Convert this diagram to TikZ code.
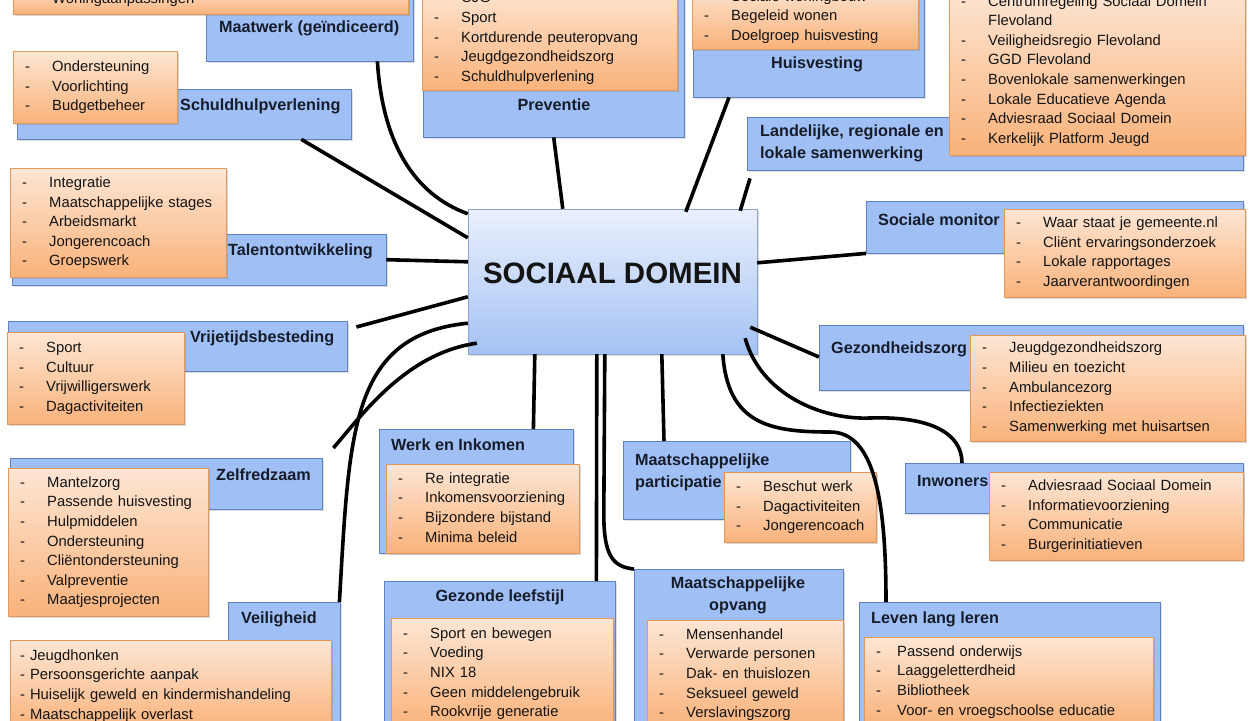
\documentclass[tikz,border=0pt]{standalone}
\usepackage{fontspec}
\setmainfont{Liberation Sans}
\usepackage{xcolor}
\usepackage{tikz}
\usetikzlibrary{shadows}
\definecolor{themefill}{RGB}{160,192,245}
\definecolor{themeline}{RGB}{95,130,190}
\definecolor{listtop}{RGB}{253,230,212}
\definecolor{listbottom}{RGB}{249,178,122}
\definecolor{listline}{RGB}{228,152,92}
\definecolor{hubtop}{RGB}{234,240,253}
\definecolor{hubbottom}{RGB}{164,194,243}
\definecolor{hubline}{RGB}{140,165,205}
\definecolor{ink}{RGB}{20,20,20}
\definecolor{titleink}{RGB}{22,28,42}

\newcommand{\dashitem}[2][27pt]{\strut\makebox[#1][l]{-}#2}

\begin{document}
\begin{tikzpicture}[x=1pt, y=-1pt,
    themebox/.style={draw=themeline, fill=themefill, anchor=north west, inner sep=0pt,
        drop shadow={shadow xshift=2pt, shadow yshift=-2pt, opacity=0.25}},
    listbox/.style={draw=listline, top color=listtop, bottom color=listbottom,
        anchor=north west, inner xsep=12pt, inner ysep=0pt, align=left, text=ink,
        font=\fontsize{14.8}{19.6}\selectfont,
        drop shadow={shadow xshift=2pt, shadow yshift=-2pt, opacity=0.3}},
    themetitle/.style={inner sep=0pt, text=titleink, font=\fontsize{16.2}{22}\selectfont\bfseries},
    hub/.style={draw=hubline, top color=hubtop, bottom color=hubbottom, inner sep=0pt,
        minimum width=289pt, minimum height=145pt, text=ink,
        font=\fontsize{29.5}{30}\selectfont\bfseries, text height=21pt, text depth=17pt,
        drop shadow={shadow xshift=2pt, shadow yshift=-2pt, opacity=0.25}},
    link/.style={line width=3.6pt, black}]

    \path[use as bounding box, fill=white] (0,0) rectangle (1252,720);

    % Central box
    \node[hub] (dom) at (612.5,281.5) {SOCIAAL DOMEIN};

    % Maatwerk
    \node[themebox, minimum width=207pt, minimum height=101pt] (maatwerk) at (206,-40) {};
    \node[listbox, text width=371pt, minimum height=29.8pt] (maatlist) at (13,-15.8)
        {\dashitem{Woningaanpassingen}};
    \node[themetitle, anchor=west] (maattitle) at (219,28) {Maatwerk (geïndiceerd)};

    % Schuldhulpverlening
    \node[themebox, minimum width=334pt, minimum height=50pt] (schuld) at (17,89) {};
    \node[listbox, text width=140pt, minimum height=72pt] (schuldlist) at (13,51)
        {\dashitem{Ondersteuning}\\\dashitem{Voorlichting}\\\dashitem{Budgetbeheer}};
    \node[themetitle, anchor=west] (schuldtitle) at (180,106) {Schuldhulpverlening};

    % Preventie
    \node[themebox, minimum width=261pt, minimum height=177pt] (preventie) at (423,-40) {};
    \node[listbox, text width=231pt, minimum height=104pt] (preventielist) at (422,-14)
        {\dashitem{CJG}\\\dashitem{Sport}\\\dashitem{Kortdurende peuteropvang}\\
         \dashitem{Jeugdgezondheidszorg}\\\dashitem{Schuldhulpverlening}};
    \node[themetitle] (preventietitle) at (554,105) {Preventie};

    % Huisvesting
    \node[themebox, minimum width=231pt, minimum height=137pt] (huis) at (693,-40) {};
    \node[listbox, text width=202pt, minimum height=65pt] (huislist) at (692,-16)
        {\dashitem{Sociale woningbouw}\\\dashitem{Begeleid wonen}\\\dashitem{Doelgroep huisvesting}};
    \node[themetitle] (huistitle) at (817,64) {Huisvesting};

    % Landelijke, regionale en lokale samenwerking
    \node[themebox, minimum width=496pt, minimum height=53pt] (samen) at (747,117) {};
    \node[listbox, text width=272pt, minimum height=169pt] (samenlist) at (949,-14)
        {\dashitem{Centrumregeling Sociaal Domein}\\\strut\hspace*{27pt}Flevoland\\
         \dashitem{Veiligheidsregio Flevoland}\\\dashitem{GGD Flevoland}\\
         \dashitem{Bovenlokale samenwerkingen}\\\dashitem{Lokale Educatieve Agenda}\\
         \dashitem{Adviesraad Sociaal Domein}\\\dashitem{Kerkelijk Platform Jeugd}};
    \node[themetitle, anchor=west, align=left] (samentitle) at (760,143)
        {Landelijke, regionale en\\lokale samenwerking};

    % Talentontwikkeling
    \node[themebox, minimum width=374pt, minimum height=51pt] (talent) at (12,234) {};
    \node[listbox, text width=192pt, minimum height=109pt] (talentlist) at (10,168)
        {\dashitem{Integratie}\\\dashitem{Maatschappelijke stages}\\\dashitem{Arbeidsmarkt}\\
         \dashitem{Jongerencoach}\\\dashitem{Groepswerk}};
    \node[themetitle, anchor=west] (talenttitle) at (228,251) {Talentontwikkeling};

    % Vrijetijdsbesteding
    \node[themebox, minimum width=339pt, minimum height=50pt] (vrije) at (8,321) {};
    \node[listbox, text width=153pt, minimum height=92pt] (vrijelist) at (7,332)
        {\dashitem{Sport}\\\dashitem{Cultuur}\\\dashitem{Vrijwilligerswerk}\\\dashitem{Dagactiviteiten}};
    \node[themetitle, anchor=west] (vrijetitle) at (190,338) {Vrijetijdsbesteding};

    % Zelfredzaam
    \node[themebox, minimum width=312pt, minimum height=51pt] (zelf) at (10,458) {};
    \node[listbox, text width=176pt, minimum height=148pt] (zelflist) at (8,468)
        {\dashitem{Mantelzorg}\\\dashitem{Passende huisvesting}\\\dashitem{Hulpmiddelen}\\
         \dashitem{Ondersteuning}\\\dashitem{Cliëntondersteuning}\\\dashitem{Valpreventie}\\
         \dashitem{Maatjesprojecten}};
    \node[themetitle, anchor=west] (zelftitle) at (216,475) {Zelfredzaam};

    % Veiligheid
    \node[themebox, minimum width=112pt, minimum height=158pt] (veilig) at (228,602) {};
    \node[listbox, inner xsep=10pt, text width=301pt, minimum height=91pt] (veiliglist) at (10,640)
        {\strut- Jeugdhonken\\\strut- Persoonsgerichte aanpak\\
         \strut- Huiselijk geweld en kindermishandeling\\\strut- Maatschappelijk overlast};
    \node[themetitle] (veiligtitle) at (279,619) {Veiligheid};

    % Werk en Inkomen
    \node[themebox, minimum width=194pt, minimum height=124pt] (werk) at (379,429) {};
    \node[listbox, text width=169pt, minimum height=89pt] (werklist) at (386,464)
        {\dashitem{Re integratie}\\\dashitem{Inkomensvoorziening}\\\dashitem{Bijzondere bijstand}\\
         \dashitem{Minima beleid}};
    \node[themetitle, anchor=west] (werktitle) at (391,445) {Werk en Inkomen};

    % Maatschappelijke participatie
    \node[themebox, minimum width=227pt, minimum height=78pt] (partic) at (623,441) {};
    \node[themetitle, anchor=west, align=left] (partictitle) at (635,472)
        {Maatschappelijke\\participatie};
    \node[listbox, text width=128pt, minimum height=70pt] (particlist) at (724,472)
        {\dashitem{Beschut werk}\\\dashitem{Dagactiviteiten}\\\dashitem{Jongerencoach}};

    % Gezonde leefstijl
    \node[themebox, minimum width=231pt, minimum height=179pt] (leefstijl) at (384,581) {};
    \node[listbox, text width=198pt, minimum height=110.6pt] (leefstijllist) at (391,618)
        {\dashitem{Sport en bewegen}\\\dashitem{Voeding}\\\dashitem{NIX 18}\\
         \dashitem{Geen middelengebruik}\\\dashitem{Rookvrije generatie}};
    \node[themetitle] (leefstijltitle) at (500,597) {Gezonde leefstijl};

    % Maatschappelijke opvang
    \node[themebox, minimum width=209pt, minimum height=191pt] (opvang) at (634,569) {};
    \node[listbox, text width=172pt, minimum height=108.6pt] (opvanglist) at (647,620)
        {\dashitem{Mensenhandel}\\\dashitem{Verwarde personen}\\\dashitem{Dak- en thuislozen}\\
         \dashitem{Seksueel geweld}\\\dashitem{Verslavingszorg}};
    \node[themetitle, align=center] (opvangtitle) at (738,595) {Maatschappelijke\\opvang};

    % Leven lang leren
    \node[themebox, minimum width=301pt, minimum height=158pt] (leren) at (859,602) {};
    \node[listbox, text width=265pt, minimum height=89pt] (lerenlist) at (864,637)
        {\dashitem[21pt]{Passend onderwijs}\\\dashitem[21pt]{Laaggeletterdheid}\\
         \dashitem[21pt]{Bibliotheek}\\\dashitem[21pt]{Voor- en vroegschoolse educatie}};
    \node[themetitle, anchor=west] (lerentitle) at (871,619) {Leven lang leren};

    % Sociale monitor
    \node[themebox, minimum width=377pt, minimum height=52pt] (monitor) at (866,201) {};
    \node[themetitle, anchor=west] (monitortitle) at (878,220) {Sociale monitor};
    \node[listbox, text width=217pt, minimum height=88pt] (monitorlist) at (1004,209)
        {\dashitem{Waar staat je gemeente.nl}\\\dashitem{Cliënt ervaringsonderzoek}\\
         \dashitem{Lokale rapportages}\\\dashitem{Jaarverantwoordingen}};

    % Gezondheidszorg
    \node[themebox, minimum width=424pt, minimum height=65pt] (gezond) at (819,325) {};
    \node[themetitle, anchor=west] (gezondtitle) at (831,349) {Gezondheidszorg};
    \node[listbox, text width=251pt, minimum height=106pt] (gezondlist) at (970,335)
        {\dashitem{Jeugdgezondheidszorg}\\\dashitem{Milieu en toezicht}\\\dashitem{Ambulancezorg}\\
         \dashitem{Infectieziekten}\\\dashitem{Samenwerking met huisartsen}};

    % Inwoners
    \node[themebox, minimum width=338pt, minimum height=50pt] (inwoners) at (905,463) {};
    \node[themetitle, anchor=west] (inwonerstitle) at (917,481) {Inwoners};
    \node[listbox, text width=230pt, minimum height=88pt] (inwonerslist) at (989,472)
        {\dashitem{Adviesraad Sociaal Domein}\\\dashitem{Informatievoorziening}\\
         \dashitem{Communicatie}\\\dashitem{Burgerinitiatieven}};

    % Links to the central box
    \coordinate (lerenbend) at (830,432);
    \coordinate (inwbend) at (870,418);
    \draw[link] ([xshift=-36pt]maatwerk.south east) .. controls +(5,80) and +(-55,-20) .. ([yshift=-5pt]dom.north west);
    \draw[link] ([xshift=-50pt]schuld.south east) -- ([yshift=-29pt]dom.north west);
    \draw[link] (preventie.south) -- ([xshift=95pt]dom.north west);
    \draw[link] ([xshift=36pt]huis.south west) -- ([xshift=218pt, yshift=-3pt]dom.north west);
    \draw[link] ([xshift=3pt, yshift=-8pt]samen.south west) -- ([xshift=-17pt, yshift=-2pt]dom.north east);
    \draw[link] (talent.east) -- ([yshift=-53pt]dom.north west);
    \draw[link] ([yshift=-54pt]dom.north east) -- (monitor.south west);
    \draw[link] ([xshift=9pt, yshift=-6pt]vrije.north east) -- ([yshift=-88pt]dom.north west);
    \draw[link] ([xshift=-7pt, yshift=27pt]dom.south east) -- ([yshift=-32pt]gezond.north west);
    \draw[link] ([yshift=31pt]dom.south west) .. controls +(-118,12) and +(10,-170) .. ([xshift=-1pt]veilig.north east);
    \draw[link] ([xshift=9pt, yshift=11pt]dom.south west) .. controls +(-70,10) and +(30,-35) .. ([xshift=11pt, yshift=10pt]zelf.north east);
    \draw[link] ([xshift=67pt]dom.south west) -- ([xshift=-40pt]werk.north east);
    \draw[link] ([xshift=129pt]dom.south west) -- ([xshift=-19pt]leefstijl.north east);
    \draw[link] ([xshift=137pt]dom.south west) -- ++(-1,160) .. controls +(0,40) and +(-22,-2) .. (opvang.north west);
    \draw[link] ([xshift=194pt]dom.south west) -- ([xshift=41pt]partic.north west);
    \draw[link] ([xshift=255pt]dom.south west) .. controls +(5,70) and +(-60,0) .. (lerenbend)
        .. controls +(45,0) and +(0,-100) .. ([xshift=27pt]leren.north west);
    \draw[link] ([xshift=-12pt, yshift=16pt]dom.south east) .. controls +(15,55) and +(-50,2) .. (inwbend)
        .. controls +(60,-2) and +(0,-30) .. ([xshift=57pt]inwoners.north west);
\end{tikzpicture}
\end{document}
